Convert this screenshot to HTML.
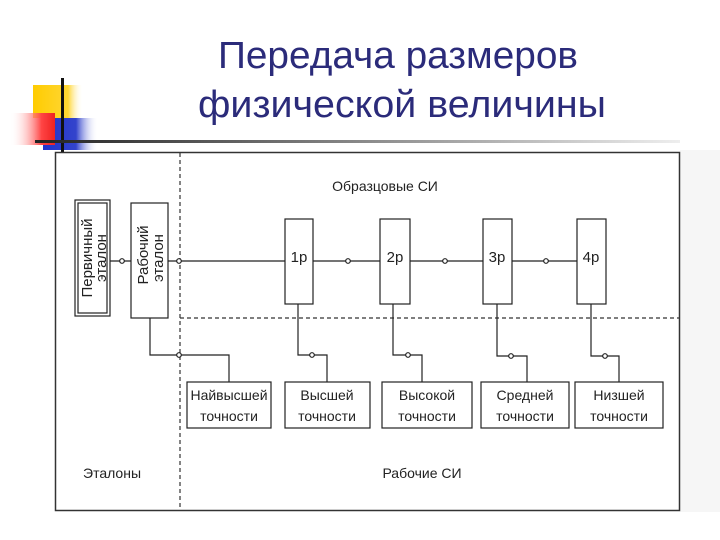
<!DOCTYPE html>
<html><head><meta charset="utf-8"><style>body{margin:0;background:#fff}svg{display:block}</style></head>
<body>
<svg width="720" height="540" viewBox="0 0 720 540" xmlns="http://www.w3.org/2000/svg" font-family="Liberation Sans, DejaVu Sans, sans-serif">
<defs>
<linearGradient id="ln" x1="0" x2="1"><stop offset="0" stop-color="#222"/><stop offset="0.5" stop-color="#888"/><stop offset="1" stop-color="#eee"/></linearGradient>
<linearGradient id="rd" x1="0" x2="1"><stop offset="0" stop-color="#fff" stop-opacity="0"/><stop offset="0.7" stop-color="#f44"/><stop offset="1" stop-color="#e22"/></linearGradient>
<linearGradient id="bl" x1="0" x2="1"><stop offset="0" stop-color="#2233cc"/><stop offset="0.6" stop-color="#3344cc"/><stop offset="1" stop-color="#fff" stop-opacity="0"/></linearGradient>
<linearGradient id="yl" x1="0" x2="1"><stop offset="0" stop-color="#ffcc00"/><stop offset="0.7" stop-color="#ffd633"/><stop offset="1" stop-color="#fff" stop-opacity="0"/></linearGradient>
</defs>
<rect x="33" y="85" width="50" height="33" fill="url(#yl)"/>
<rect x="43" y="118" width="55" height="32" fill="url(#bl)"/>
<rect x="10" y="113" width="45" height="32" fill="url(#rd)"/>
<rect x="61" y="78" width="3" height="75" fill="#111"/>
<rect x="35" y="140" width="645" height="3" fill="url(#ln)"/>
<g fill="#2b2b7a" font-size="38" text-anchor="middle">
<text x="398" y="68" textLength="360" lengthAdjust="spacingAndGlyphs">Передача размеров</text>
<text x="402" y="117" textLength="408" lengthAdjust="spacingAndGlyphs">физической величины</text>
</g>
<rect x="680" y="150" width="40" height="362" fill="#f6f6f6"/>
<rect x="55.5" y="152.5" width="624" height="358" fill="#fff" stroke="#333" stroke-width="1.5"/>
<g stroke="#333" stroke-dasharray="4,3" stroke-width="1.2">
<line x1="180" y1="153" x2="180" y2="510"/>
<line x1="180" y1="318" x2="679" y2="318"/>
</g>
<g fill="#fff" stroke="#222" stroke-width="1.2">
<rect x="75" y="200" width="35" height="116"/>
<rect x="78" y="203" width="29" height="110"/>
<rect x="131" y="203" width="37" height="115"/>
<rect x="285" y="219" width="28" height="85"/>
<rect x="380" y="219" width="30" height="85"/>
<rect x="483" y="219" width="29" height="85"/>
<rect x="577" y="219" width="29" height="85"/>
<rect x="187" y="382" width="84" height="46"/>
<rect x="285" y="382" width="85" height="46"/>
<rect x="382" y="382" width="90" height="46"/>
<rect x="481" y="382" width="88" height="46"/>
<rect x="575" y="382" width="88" height="46"/>
</g>
<g stroke="#222" stroke-width="1.2" fill="none">
<line x1="110" y1="261" x2="131" y2="261"/>
<line x1="168" y1="261" x2="285" y2="261"/>
<line x1="313" y1="261" x2="380" y2="261"/>
<line x1="410" y1="261" x2="483" y2="261"/>
<line x1="512" y1="261" x2="577" y2="261"/>
<polyline points="150,318 150,355 229,355 229,382"/>
<polyline points="298,304 298,355 327,355 327,382"/>
<polyline points="393,304 393,355 422,355 422,382"/>
<polyline points="497,304 497,356 527,356 527,382"/>
<polyline points="591,304 591,356 619,356 619,382"/>
</g>
<g fill="#fff" stroke="#222" stroke-width="1.2">
<circle cx="122" cy="261" r="2.3"/><circle cx="179" cy="261" r="2.3"/>
<circle cx="348" cy="261" r="2.3"/><circle cx="445" cy="261" r="2.3"/><circle cx="546" cy="261" r="2.3"/>
<circle cx="179" cy="355" r="2.3"/><circle cx="312" cy="355" r="2.3"/><circle cx="408" cy="355" r="2.3"/><circle cx="511" cy="356" r="2.3"/><circle cx="605" cy="356" r="2.3"/>
</g>
<g fill="#222" font-size="14">
<text x="385" y="191" text-anchor="middle">Образцовые СИ</text>
<text x="83" y="478">Эталоны</text>
<text x="422" y="478" text-anchor="middle">Рабочие СИ</text>
<g font-size="15" text-anchor="middle">
<text x="299" y="262">1р</text><text x="395" y="262">2р</text><text x="497" y="262">3р</text><text x="591" y="262">4р</text>
</g>
<g text-anchor="middle">
<text x="229" y="400">Найвысшей</text><text x="229" y="421">точности</text>
<text x="327" y="400">Высшей</text><text x="327" y="421">точности</text>
<text x="427" y="400">Высокой</text><text x="427" y="421">точности</text>
<text x="525" y="400">Средней</text><text x="525" y="421">точности</text>
<text x="619" y="400">Низшей</text><text x="619" y="421">точности</text>
</g>
<g font-size="15" text-anchor="middle">
<text transform="translate(92,258) rotate(-90)">Первичный</text>
<text transform="translate(106,258) rotate(-90)">эталон</text>
<text transform="translate(148,255) rotate(-90)">Рабочий</text>
<text transform="translate(163,258) rotate(-90)">эталон</text>
</g>
</g>
</svg>
</body></html>
